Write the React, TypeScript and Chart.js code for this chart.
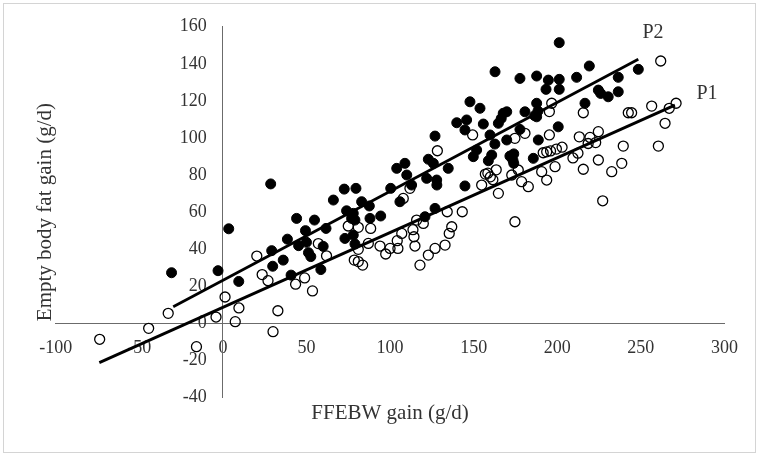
import React, { useEffect, useRef } from 'react';
import { Chart, registerables } from 'chart.js';

Chart.register(...registerables);

// FFEBW gain (g/d) vs empty body fat gain (g/d)
const P2_POINTS: [number, number][] = [
  [-30.7, 27.3], [-2.9, 28.4], [3.5, 51.0], [9.5, 22.6], [28.6, 75.2], [29.2, 39.2],
  [29.8, 30.8], [36.1, 34.1], [38.6, 45.4], [40.8, 26.0], [44.1, 56.6], [45.3, 41.9],
  [49.4, 50.0], [50.0, 43.7], [51.2, 38.1], [52.6, 36.0], [54.8, 55.7], [58.6, 29.0],
  [60.0, 41.5], [61.7, 51.2], [66.1, 66.5], [72.6, 72.4], [74.0, 60.7], [73.0, 45.8],
  [79.6, 72.8], [78.0, 59.3], [77.0, 56.6], [78.0, 47.6], [79.0, 42.8], [79.0, 55.7],
  [83.0, 65.6], [87.6, 63.3], [88.0, 56.6], [94.4, 57.9], [100.4, 72.8], [104.0, 83.6],
  [105.9, 65.6], [108.9, 86.3], [110.0, 80.0], [112.9, 74.6], [120.9, 57.5], [121.9, 78.2],
  [122.9, 88.5], [125.9, 86.3], [126.9, 101.0], [126.9, 62.0], [127.9, 77.3], [128.0, 74.6],
  [134.8, 83.6], [139.9, 108.2], [145.8, 109.7], [144.8, 104.3], [144.8, 74.1], [147.8, 119.5],
  [149.8, 89.9], [151.8, 93.5], [153.8, 116.0], [155.8, 107.5], [158.8, 87.7], [159.8, 101.6],
  [160.8, 90.8], [162.7, 96.7], [162.8, 135.7], [164.8, 107.9], [166.5, 110.5], [167.7, 113.3],
  [169.8, 114.1], [169.8, 98.9], [171.7, 90.2], [173.5, 88.0], [174.0, 91.4], [174.0, 86.3],
  [177.7, 104.6], [177.7, 132.1], [180.7, 114.1], [185.7, 89.0], [186.5, 112.0], [187.7, 133.4],
  [187.7, 118.7], [188.5, 114.5], [187.7, 111.4], [188.7, 98.9], [193.3, 126.2], [194.7, 131.2],
  [200.6, 106.0], [201.2, 151.4], [201.2, 131.6], [201.2, 126.2], [211.6, 132.7], [216.6, 118.7],
  [219.2, 138.8], [224.6, 125.8], [226.0, 124.0], [230.5, 122.2], [236.5, 132.7], [236.5, 124.9],
  [248.5, 137.0],
];

const P1_POINTS: [number, number][] = [
  [-73.7, -8.6], [-44.4, -2.7], [-32.7, 5.4], [-15.8, -12.6], [-4.1, 3.4], [1.3, 14.2],
  [7.4, 0.9], [9.6, 8.3], [20.3, 36.3], [23.5, 26.3], [27.0, 23.0], [30.0, -4.5],
  [32.9, 6.8], [43.5, 21.1], [48.9, 24.5], [53.6, 17.5], [57.1, 43.0], [62.0, 36.4],
  [75.0, 52.5], [81.0, 51.8], [88.4, 51.2], [81.0, 39.9], [78.6, 34.1], [81.0, 33.3],
  [83.6, 31.4], [87.0, 43.1], [94.0, 41.7], [97.4, 37.4], [100.0, 40.4], [104.7, 40.4],
  [104.3, 44.6], [107.0, 48.5], [107.9, 67.4], [111.9, 72.8], [114.9, 41.7], [114.3, 46.7],
  [113.7, 50.5], [115.9, 55.7], [119.9, 53.9], [117.9, 31.4], [122.9, 36.8], [126.9, 40.4],
  [128.3, 93.1], [132.9, 42.2], [134.2, 60.2], [135.4, 48.5], [136.9, 52.1], [143.2, 60.2],
  [149.4, 101.6], [154.8, 74.6], [157.0, 80.5], [158.5, 81.0], [160.0, 79.0], [161.5, 77.5],
  [163.5, 82.8], [164.8, 70.1], [172.8, 80.0], [174.7, 99.8], [174.7, 54.8], [176.7, 82.7],
  [178.7, 76.4], [180.7, 102.5], [182.7, 73.7], [190.7, 81.8], [191.6, 92.0], [193.7, 92.5],
  [196.0, 93.0], [193.7, 77.3], [195.3, 101.6], [196.7, 118.7], [195.3, 114.2], [198.7, 84.5],
  [199.5, 94.0], [202.9, 95.0], [209.4, 89.2], [212.4, 91.8], [213.2, 100.6], [215.6, 113.6],
  [215.6, 83.1], [218.5, 97.0], [219.6, 100.3], [223.0, 97.5], [224.6, 103.4], [224.6, 88.1],
  [227.2, 66.1], [232.6, 81.8], [238.6, 86.3], [239.5, 95.6], [242.5, 113.6], [244.5, 113.6],
  [256.5, 117.2], [260.5, 95.6], [261.9, 141.5], [264.5, 107.9], [267.0, 116.0], [271.1, 118.7],
];

// Regression line end points
const P2_LINE: [number, number][] = [[-29.7, 9.0], [248.5, 142.4]];
const P1_LINE: [number, number][] = [[-73.9, -21.2], [270.4, 117.7]];

// Series labels (text and data-space anchor)
const SERIES_LABELS = ['P2', 'P1'];
const SERIES_LABEL_AT: [number, number][] = [[257.3, 156.6], [289.6, 123.7]];

const X_MIN = -100, X_MAX = 300, X_STEP = 50;
const Y_MIN = -40, Y_MAX = 160, Y_STEP = 20;
const X_TITLE = 'FFEBW gain (g/d)';
const Y_TITLE = 'Empty body fat gain (g/d)';

const FONT = "'Liberation Serif', 'Times New Roman', serif";
const TEXT = '#333333';
const AXIS = '#6b6b6b';

const toXY = (arr: [number, number][]) => arr.map(([x, y]) => ({ x, y }));

export default function App() {
  const ref = useRef<HTMLCanvasElement | null>(null);

  useEffect(() => {
    if (!ref.current) return;
    const labelPlugin = {
      id: 'seriesLabels',
      afterDatasetsDraw(chart: any) {
        const { ctx, scales } = chart;
        ctx.save();
        ctx.font = `20px ${FONT}`;
        ctx.fillStyle = TEXT;
        ctx.textAlign = 'center';
        ctx.textBaseline = 'middle';
        SERIES_LABELS.forEach((t, i) => {
          const [x, y] = SERIES_LABEL_AT[i];
          ctx.fillText(t, scales.x.getPixelForValue(x), scales.y.getPixelForValue(y));
        });
        ctx.restore();
      },
    };

    const chart = new Chart(ref.current, {
      type: 'scatter',
      data: {
        datasets: [
          {
            label: 'P2',
            data: toXY(P2_POINTS),
            pointRadius: 5,
            pointBackgroundColor: '#000',
            pointBorderColor: '#000',
            pointBorderWidth: 1,
            showLine: false,
          },
          {
            label: 'P1',
            data: toXY(P1_POINTS),
            pointRadius: 5,
            pointBackgroundColor: 'rgba(255,255,255,0)',
            pointBorderColor: '#000',
            pointBorderWidth: 1.3,
            showLine: false,
          },
          {
            label: 'P2 fit',
            data: toXY(P2_LINE),
            showLine: true,
            borderColor: '#000',
            borderWidth: 2.8,
            pointRadius: 0,
          },
          {
            label: 'P1 fit',
            data: toXY(P1_LINE),
            showLine: true,
            borderColor: '#000',
            borderWidth: 2.8,
            pointRadius: 0,
          },
        ],
      },
      options: {
        responsive: false,
        animation: false,
        layout: { padding: { left: 33, right: 39.6, top: 26.7, bottom: 30 } },
        plugins: { legend: { display: false }, tooltip: { enabled: false } },
        scales: {
          x: {
            type: 'linear',
            min: X_MIN,
            max: X_MAX,
            position: { y: 0 } as any,
            ticks: { stepSize: X_STEP, font: { family: FONT, size: 18 }, color: TEXT, padding: 14, maxRotation: 0 },
            grid: { display: false, drawTicks: false },
            border: { display: true, color: AXIS, width: 1 },
            afterFit: (s: any) => { s.height = 0; },
          },
          // tick labels of the vertical axis, set just left of the x = 0 line
          y: {
            type: 'linear',
            min: Y_MIN,
            max: Y_MAX,
            position: { x: -9.6 } as any,
            ticks: { stepSize: Y_STEP, font: { family: FONT, size: 18 }, color: TEXT, padding: 0 },
            grid: { display: false, drawTicks: false },
            border: { display: false },
            afterFit: (s: any) => { s.width = 0; },
          },
          // the vertical axis line at x = 0
          yLine: {
            type: 'linear',
            min: Y_MIN,
            max: Y_MAX,
            position: { x: 0 } as any,
            ticks: { display: false },
            grid: { display: false, drawTicks: false },
            border: { display: true, color: AXIS, width: 1 },
            afterFit: (s: any) => { s.width = 0; },
          },
          xt: {
            type: 'linear',
            position: 'bottom',
            display: true,
            ticks: { display: false },
            grid: { display: false, drawTicks: false },
            border: { display: false },
            title: { display: true, text: X_TITLE, color: TEXT, font: { family: FONT, size: 21 }, padding: 0 },
            afterFit: (s: any) => { s.height = 28.5; },
          },
          yt: {
            type: 'linear',
            position: 'left',
            display: true,
            ticks: { display: false },
            grid: { display: false, drawTicks: false },
            border: { display: false },
            title: { display: true, text: Y_TITLE, color: TEXT, font: { family: FONT, size: 21 }, padding: 0 },
            afterFit: (s: any) => { s.width = 22.7; },
          },
        },
      } as any,
      plugins: [labelPlugin],
    });
    return () => chart.destroy();
  }, []);

  return (
    <div style={{ position: 'absolute', left: 0, top: 0, width: 764, height: 456, background: '#fff' }}>
      <canvas ref={ref} width={764} height={456} style={{ display: 'block', width: 764, height: 456 }} />
      <div
        style={{
          position: 'absolute', left: 3, top: 3, width: 751, height: 448,
          border: '1px solid #d4d4d4', pointerEvents: 'none',
        }}
      />
    </div>
  );
}
